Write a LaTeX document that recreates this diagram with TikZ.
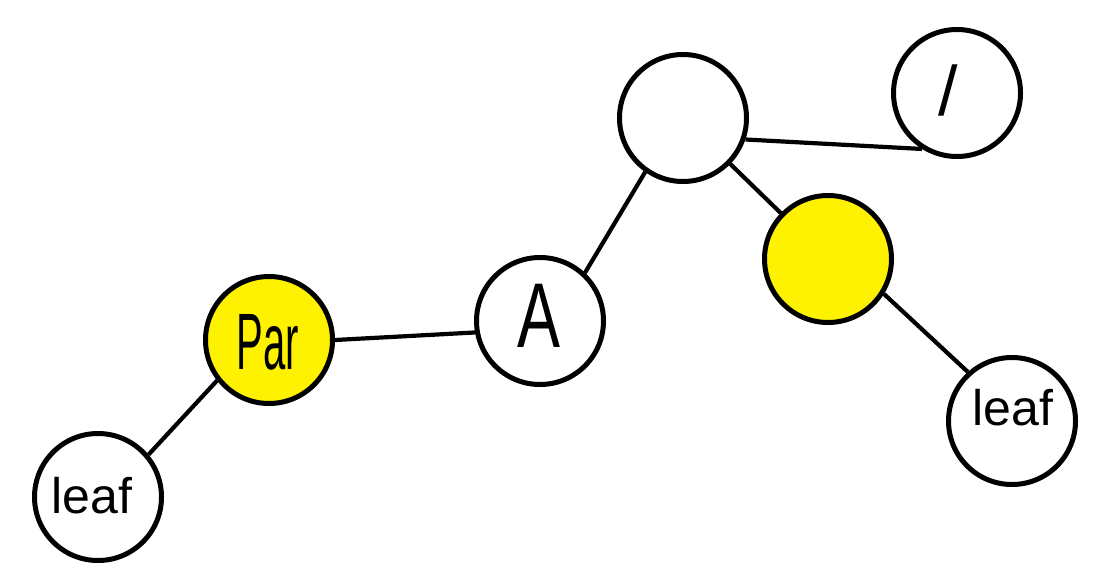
\documentclass[tikz,border=0pt]{standalone}
\usepackage{fontspec}
\setmainfont{Liberation Sans}
\definecolor{hl}{HTML}{FFF200}
\begin{document}
\begin{tikzpicture}[x=1pt,y=-1pt,
  vert/.style={circle,draw=black,line width=5pt,minimum size=127pt,inner sep=0pt,fill=white},
  hot/.style={vert,fill=hl},
  edge/.style={line width=4.2pt,black},
  lbl/.style={inner sep=0pt}]
\useasboundingbox (0,0) rectangle (1105,581);
\node[vert] (leafL) at (98,497) {};
\node[hot] (par) at (269,340) {};
\node[vert] (a) at (540,321) {};
\node[vert] (top) at (683,118) {};
\node[vert] (slash) at (957,93) {};
\node[hot] (yel) at (828,259) {};
\node[vert] (leafR) at (1012,421) {};
\node[lbl] (tleafL) at (92,496) {\fontsize{50}{50}\selectfont leaf};
\node[lbl] (tpar) at (268,342) {\fontsize{80}{80}\selectfont\scalebox{0.5}[1]{Par}};
\node[lbl] (ta) at (539,316) {\fontsize{92}{92}\selectfont\scalebox{0.7}[1]{A}};
\node[lbl] (tslash) at (948,90) {\fontsize{70}{70}\selectfont /};
\node[lbl] (tleafR) at (1013,408) {\fontsize{50}{50}\selectfont leaf};
\draw[edge] (leafL.40) -- (par.218);
\draw[edge] (par.0) -- (a.190);
\draw[edge] (a.47) -- (top.235);
\draw[edge] (top.-19) -- (slash.238);
\draw[edge] (top) -- (yel);
\draw[edge] (yel.-32) -- (leafR.132);
\end{tikzpicture}
\end{document}
